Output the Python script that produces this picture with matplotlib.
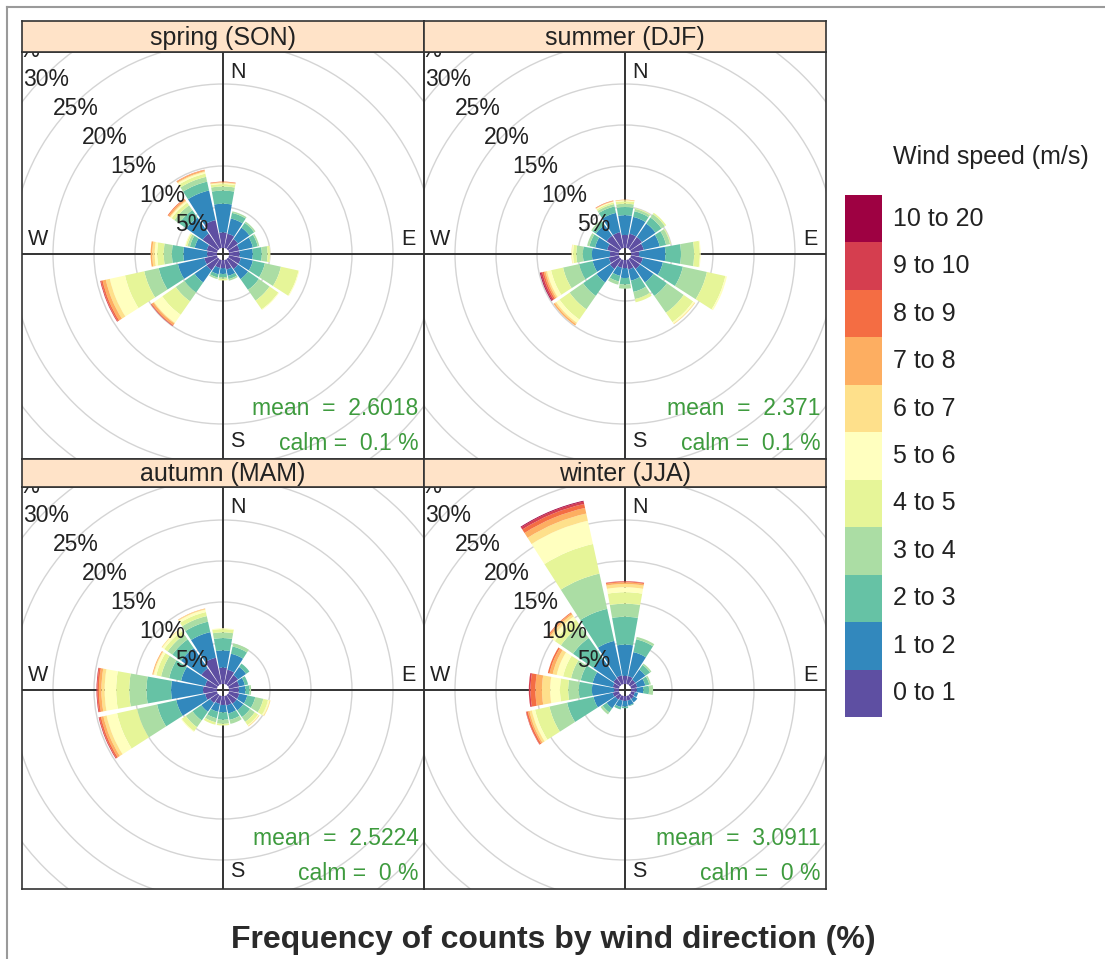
import numpy as np
import matplotlib
matplotlib.use("Agg")
import matplotlib.pyplot as plt
from matplotlib.lines import Line2D
from matplotlib.patches import Circle

plt.rcParams['font.family'] = ['Liberation Sans', 'DejaVu Sans']

# 16 wind sectors (N, NNE, ... NNW) and the speed classes
directions = np.arange(0, 360, 22.5)
speed_bins = ['0 to 1', '1 to 2', '2 to 3', '3 to 4', '4 to 5', '5 to 6',
              '6 to 7', '7 to 8', '8 to 9', '9 to 10', '10 to 20']
colours = ['#5E4FA2', '#3288BD', '#66C2A5', '#ABDDA4', '#E6F598', '#FFFFBF',
           '#FEE08B', '#FDAE61', '#F46D43', '#D53E4F', '#9E0142']

panel_titles = ['spring (SON)', 'summer (DJF)', 'autumn (MAM)', 'winter (JJA)']
mean_speed = ['2.6018', '2.371', '2.5224', '3.0911']
calm_pct = ['0.1', '0.1', '0', '0']
ring_levels = [5, 10, 15, 20, 25, 30, 35]

# cumulative % of counts per sector, up to the top of each speed class
# (classes not listed add nothing)
spring_cum = [
    [1.9, 5.4, 7.0, 7.5, 7.8, 7.9, 8.0, 8.05, 8.1],
    [1.8, 3.7, 4.4, 4.6],
    [1.5, 3.2, 3.9, 4.1],
    [1.3, 3.0, 3.6, 3.8],
    [1.3, 2.9, 4.0, 4.7, 5.0, 5.05],
    [1.5, 3.0, 4.5, 6.5, 8.7, 8.8],
    [1.5, 3.0, 4.6, 6.2, 7.5, 7.6],
    [1.2, 2.0, 2.4, 2.6],
    [1.0, 1.7, 2.1, 2.3, 2.5],
    [1.0, 1.8, 2.2, 2.4],
    [1.7, 3.5, 5.0, 6.3, 8.3, 9.5, 9.6, 9.85, 9.95, 10.0],
    [1.6, 4.9, 7.3, 9.1, 11.5, 13.4, 13.9, 14.3, 14.5, 14.6],
    [1.2, 4.1, 5.5, 6.5, 7.3, 7.6, 7.9, 8.1],
    [1.3, 2.8, 3.4, 3.7, 3.9, 4.0],
    [2.3, 4.7, 5.8, 6.5, 6.9, 7.1, 7.2, 7.4, 7.5],
    [3.5, 7.2, 8.3, 8.9, 9.3, 9.5, 9.6, 9.75, 9.8],
]
summer_cum = [
    [1.6, 4.0, 5.0, 5.4, 5.7, 5.8, 5.85, 5.9],
    [1.8, 3.9, 4.6, 4.9, 5.0],
    [1.8, 3.8, 4.7, 5.2, 5.4],
    [1.6, 3.6, 4.4, 4.9, 5.0],
    [1.0, 4.2, 6.1, 7.7, 8.4, 8.5],
    [1.5, 4.0, 6.5, 9.5, 11.8, 12.0],
    [1.5, 3.5, 5.5, 8.0, 9.4, 9.6, 9.7],
    [1.2, 2.6, 4.0, 4.9, 5.3],
    [1.0, 2.2, 3.0, 3.5],
    [1.0, 2.0, 2.7, 3.1],
    [1.5, 3.5, 5.5, 7.5, 9.0, 9.5, 9.7, 9.9],
    [1.3, 3.3, 5.0, 7.0, 8.5, 9.0, 9.2, 9.4, 9.6, 9.8, 9.9],
    [1.1, 3.3, 4.4, 5.2, 5.6, 5.75, 5.8],
    [1.5, 3.0, 3.7, 4.0],
    [2.0, 3.6, 4.1, 4.3],
    [2.0, 4.4, 5.2, 5.5, 5.7, 5.8, 5.85, 5.9, 5.95],
]
autumn_cum = [
    [2.0, 4.1, 5.6, 6.3, 6.7, 6.8],
    [1.8, 3.8, 4.7, 5.1],
    [1.5, 2.7, 3.2],
    [1.3, 2.0, 2.4],
    [1.2, 2.0, 2.5, 2.7],
    [1.3, 2.3, 3.3, 4.3, 4.9, 5.1, 5.2],
    [1.3, 2.3, 3.3, 4.0, 4.5, 4.6, 4.7],
    [1.2, 2.2, 3.0, 3.5],
    [1.1, 2.0, 2.9, 3.4, 3.6],
    [1.0, 2.0, 2.8, 3.3, 3.6],
    [1.2, 2.5, 3.8, 4.8, 5.4, 5.5],
    [1.5, 5.1, 7.5, 10.0, 12.5, 13.8, 14.2, 14.5, 14.7, 14.8],
    [1.7, 5.6, 8.6, 10.7, 12.3, 13.7, 14.1, 14.4, 14.6, 14.7],
    [1.5, 4.5, 6.0, 7.0, 7.6, 7.9, 8.0, 8.1],
    [2.5, 5.5, 6.8, 7.5, 8.0, 8.3, 8.4],
    [3.3, 6.5, 7.8, 8.5, 9.0, 9.3, 9.4, 9.45],
]
winter_cum = [
    [1.0, 4.8, 8.2, 9.8, 11.2, 11.8, 12.2, 12.4, 12.5, 12.55],
    [1.0, 4.0, 5.6, 5.9],
    [0.8, 2.3, 3.0, 3.2],
    [0.8, 1.8, 2.3, 2.5],
    [0.7, 1.5, 2.2, 2.7],
    [0.5, 0.9],
    [0.6, 1.1],
    [0.6, 1.2, 1.3],
    [0.6, 1.3, 1.5],
    [0.6, 1.4, 1.7],
    [0.7, 2.0, 2.6, 2.9],
    [0.8, 3.2, 6.5, 8.7, 10.5, 10.9, 11.2, 11.4, 11.6, 11.65],
    [0.6, 3.3, 4.9, 6.2, 7.2, 8.4, 9.4, 10.2, 10.8, 11.0],
    [0.8, 3.3, 4.8, 6.0, 7.0, 7.8, 8.3, 8.7, 8.9],
    [1.0, 4.0, 7.0, 8.8, 9.7, 10.2, 10.5, 10.7, 10.8],
    [1.1, 5.4, 9.4, 13.8, 17.5, 20.4, 21.3, 22.0, 22.5, 22.8, 22.9],
]
all_cum = [spring_cum, summer_cum, autumn_cum, winter_cum]

# layout in pixels of the 1105 x 959 image
W, H = 1105, 959
PX = 8.2      # pixels per 1 %
OFF = 0.73    # hole in the middle (in % units)
R = 200       # radius of the polar axes in pixels
cols = [(22, 424, 223), (424, 826, 625)]
rows = [((21, 52), (52, 459), 254), ((459, 487), (487, 889), 690)]


def frac(x0, y0, x1, y1):
    return [x0 / W, 1 - y1 / H, (x1 - x0) / W, (y1 - y0) / H]


fig = plt.figure(figsize=(W / 100, H / 100), dpi=100)
fig.patch.set_facecolor('white')

ink = '#333333'
txt = '#222222'
green = '#3E9B3E'
for i, cum in enumerate(all_cum):
    (x0, x1, cx) = cols[i % 2]
    (s0, s1), (b0, b1), cy = rows[i // 2]
    xlim = ((x0 - cx) / PX, (x1 - cx) / PX)
    ylim = ((cy - b1) / PX, (cy - b0) / PX)

    # background: rings and the compass cross
    bg = fig.add_axes(frac(x0, b0, x1, b1), zorder=1)
    bg.set_xlim(*xlim)
    bg.set_ylim(*ylim)
    bg.set_axis_off()
    for lev in ring_levels + [40]:
        bg.add_patch(Circle((0, 0), lev + OFF, fill=False, ec='#D4D4D4', lw=1.0))
    bg.axhline(0, color=ink, lw=1.4)
    bg.axvline(0, color=ink, lw=1.4)

    # the rose itself
    pa = fig.add_axes(frac(cx - R, cy - R, cx + R, cy + R), projection='polar', zorder=2)
    pa.set_theta_zero_location('N')
    pa.set_theta_direction(-1)
    pa.set_ylim(0, R / PX - OFF)
    pa.set_rorigin(-OFF)
    pa.set_axis_off()
    table = np.array([row + [row[-1]] * (len(speed_bins) - len(row)) for row in cum])
    base = np.hstack([np.zeros((len(directions), 1)), table[:, :-1]])
    theta = np.radians(directions)
    for k in range(len(speed_bins)):
        pa.bar(theta, table[:, k] - base[:, k], width=np.radians(22.5) * 0.9,
               bottom=base[:, k], color=colours[k], edgecolor='none', linewidth=0)

    # foreground: labels and the panel border
    fg = fig.add_axes(frac(x0, b0, x1, b1), zorder=3)
    fg.set_xlim(*xlim)
    fg.set_ylim(*ylim)
    fg.patch.set_alpha(0)
    fg.set_xticks([])
    fg.set_yticks([])
    for sp in fg.spines.values():
        sp.set_color(ink)
        sp.set_linewidth(1.2)
    for lev in ring_levels:
        d = (lev + OFF) * np.sqrt(0.5)
        fg.text(-d + 0.2, d - 0.4, f'{lev}%', ha='center', va='center', fontsize=16.5,
                color=txt, clip_on=True)
    fg.annotate('N', xy=(0, ylim[1]), xytext=(5, -7), textcoords='offset points',
                ha='left', va='top', fontsize=15.5, color=txt)
    fg.annotate('S', xy=(0, ylim[0]), xytext=(5, 5), textcoords='offset points',
                ha='left', va='bottom', fontsize=15.5, color=txt)
    fg.annotate('W', xy=(xlim[0], 0), xytext=(4, 3), textcoords='offset points',
                ha='left', va='bottom', fontsize=15.5, color=txt)
    fg.annotate('E', xy=(xlim[1], 0), xytext=(-6, 3), textcoords='offset points',
                ha='right', va='bottom', fontsize=15.5, color=txt)
    fg.annotate(f'mean  =  {mean_speed[i]}', xy=(xlim[1], ylim[0]), xytext=(-4, 28),
                textcoords='offset points', ha='right', va='bottom', fontsize=16.5,
                color=green)
    fg.annotate(f'calm =  {calm_pct[i]} %', xy=(xlim[1], ylim[0]), xytext=(-4, 3),
                textcoords='offset points', ha='right', va='bottom', fontsize=16.5,
                color=green)

    # strip with the season name
    st = fig.add_axes(frac(x0, s0, x1, s1), zorder=3)
    st.set_facecolor('#FFE3C8')
    st.set_xticks([])
    st.set_yticks([])
    for sp in st.spines.values():
        sp.set_color(ink)
        sp.set_linewidth(1.2)
    st.text(0.5, 0.45, panel_titles[i], ha='center', va='center', fontsize=18,
            color=txt, transform=st.transAxes)

# key for the speed classes
key = fig.add_axes(frac(845, 195, 882, 717))
key.bar(np.zeros(len(speed_bins)), np.ones(len(speed_bins)), width=1,
        bottom=np.arange(len(speed_bins)), color=colours, edgecolor='none')
key.set_xlim(-0.5, 0.5)
key.set_ylim(0, len(speed_bins))
key.set_axis_off()
for k, lab in enumerate(speed_bins):
    key.text(0.8, k + 0.5, lab, ha='left', va='center', fontsize=18,
             color=txt, clip_on=False)
fig.text(893 / W, 1 - 157 / H, 'Wind speed (m/s)', ha='left', va='center',
         fontsize=18, color=txt)

fig.text(553 / W, 1 - 940 / H, 'Frequency of counts by wind direction (%)',
         ha='center', va='center', fontsize=23, fontweight='bold', color='#2A2A2A')

# thin frame of the original screenshot
fig.add_artist(Line2D([7 / W, 7 / W], [0, 1 - 7 / H], color='#9A9A9A', lw=1.5,
                      transform=fig.transFigure))
fig.add_artist(Line2D([7 / W, 1], [1 - 7 / H, 1 - 7 / H], color='#9A9A9A', lw=1.5,
                      transform=fig.transFigure))

fig.savefig('out.png', dpi=100)
